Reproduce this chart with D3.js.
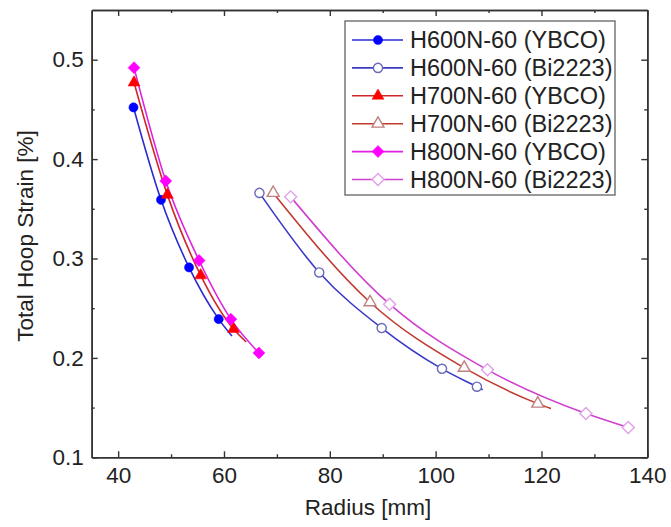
<!DOCTYPE html>
<html lang="en">
<head>
<meta charset="UTF-8">
<title>Total Hoop Strain vs Radius</title>
<script src="https://d3js.org/d3.v7.min.js"></script>
<style>
    body { margin: 0; background: #fff; }
    svg { font-family: "Liberation Sans", Arial, sans-serif; }
</style>
</head>
<body>
<div id="chart"></div>
<script>
    // Values
    const seriesNames = ['H600N-60 (YBCO)', 'H600N-60 (Bi2223)', 'H700N-60 (YBCO)',
                         'H700N-60 (Bi2223)', 'H800N-60 (YBCO)', 'H800N-60 (Bi2223)'];

    // marker points (radius mm, strain %)
    const h600yR = [42.9, 48.1, 53.4, 59.0];
    const h600yS = [0.452, 0.359, 0.291, 0.239];
    const h600bR = [66.7, 78.0, 89.8, 101.2, 107.8];
    const h600bS = [0.366, 0.286, 0.230, 0.189, 0.171];
    const h700yR = [43.0, 49.3, 55.6, 61.8];
    const h700yS = [0.477, 0.364, 0.283, 0.229];
    const h700bR = [69.3, 87.6, 105.4, 119.3];
    const h700bS = [0.366, 0.256, 0.190, 0.154];
    const h800yR = [43.0, 49.0, 55.3, 61.3, 66.6];
    const h800yS = [0.492, 0.378, 0.298, 0.239, 0.205];
    const h800bR = [72.6, 91.3, 109.8, 128.4, 136.4];
    const h800bS = [0.362, 0.254, 0.188, 0.144, 0.130];

    // fitted curve end points (the lines run a little past the last marker)
    const curveEndR = [61.5, 108.9, 64.2, 121.8, 66.6, 136.4];
    const curveEndS = [0.222, 0.168, 0.216, 0.149, 0.205, 0.130];

    const xTicks = [40, 60, 80, 100, 120, 140];
    const xMinor = [50, 70, 90, 110, 130];
    const yTicks = [0.1, 0.2, 0.3, 0.4, 0.5];
    const yMinor = [0.15, 0.25, 0.35, 0.45];

    const markerR = [h600yR, h600bR, h700yR, h700bR, h800yR, h800bR];
    const markerS = [h600yS, h600bS, h700yS, h700bS, h800yS, h800bS];

    const lineColors = ['#2b2bd0', '#3a3ac8', '#d02828', '#c03a30', '#e020e0', '#d040d0'];
    const markColors = ['#0000ff', '#6a6ab8', '#ff0000', '#c08080', '#ff00ff', '#e0a0e8'];
    const filled = [true, false, true, false, true, false];
    const shapes = ['circle', 'circle', 'triangle', 'triangle', 'diamond', 'diamond'];

    const W = 671, H = 527;
    const x = d3.scaleLinear().domain([35, 140]).range([91.7, 647.3]);
    const y = d3.scaleLinear().domain([0.1, 0.55]).range([457.3, 10]);

    const svg = d3.select('#chart').append('svg')
        .attr('width', W).attr('height', H);

    const series = seriesNames.map((name, i) => ({
        name,
        points: markerR[i].map((r, j) => ({ r, s: markerS[i][j] })),
        curve: markerR[i].map((r, j) => ({ r, s: markerS[i][j] }))
            .concat(curveEndR[i] > d3.max(markerR[i]) ? [{ r: curveEndR[i], s: curveEndS[i] }] : []),
        line: lineColors[i],
        mark: markColors[i],
        filled: filled[i],
        shape: shapes[i]
    }));

    // marker path + extra rotation per shape
    function markerPath(shape) {
        if (shape === 'circle') return d3.symbol().type(d3.symbolCircle).size(66)();
        if (shape === 'triangle') return d3.symbol().type(d3.symbolTriangle).size(62)();
        return d3.symbol().type(d3.symbolSquare).size(72)();
    }
    const markerRot = shape => shape === 'diamond' ? ' rotate(45)' : '';

    // axes frame
    const axisColor = '#333';
    function styleAxis(g, showLabels) {
        g.select('.domain').attr('stroke', axisColor).attr('stroke-width', 1.6);
        g.selectAll('.tick line').attr('stroke', axisColor).attr('stroke-width', 1.4);
        g.selectAll('.tick text').attr('fill', '#222').style('font-size', '22.5px');
        if (!showLabels) g.selectAll('.tick text').remove();
    }

    const xAxisBottom = svg.append('g').attr('transform', `translate(0,${y(0.1)})`)
        .call(d3.axisBottom(x).tickValues(xTicks).tickSizeInner(-6).tickSizeOuter(0).tickPadding(10));
    styleAxis(xAxisBottom, true);
    xAxisBottom.selectAll('.tick text').attr('dy', '0.71em');
    const xMinorBottom = svg.append('g').attr('transform', `translate(0,${y(0.1)})`)
        .call(d3.axisBottom(x).tickValues(xMinor).tickSizeInner(-3).tickSizeOuter(0));
    styleAxis(xMinorBottom, false);

    const xAxisTop = svg.append('g').attr('transform', `translate(0,${y(0.55)})`)
        .call(d3.axisTop(x).tickValues(xTicks).tickSizeInner(-6).tickSizeOuter(0));
    styleAxis(xAxisTop, false);
    const xMinorTop = svg.append('g').attr('transform', `translate(0,${y(0.55)})`)
        .call(d3.axisTop(x).tickValues(xMinor).tickSizeInner(-3).tickSizeOuter(0));
    styleAxis(xMinorTop, false);

    const yAxisLeft = svg.append('g').attr('transform', `translate(${x(35)},0)`)
        .call(d3.axisLeft(y).tickValues(yTicks).tickFormat(d3.format('.1f')).tickSizeInner(-6).tickSizeOuter(0).tickPadding(8));
    styleAxis(yAxisLeft, true);
    const yMinorLeft = svg.append('g').attr('transform', `translate(${x(35)},0)`)
        .call(d3.axisLeft(y).tickValues(yMinor).tickSizeInner(-3).tickSizeOuter(0));
    styleAxis(yMinorLeft, false);

    const yAxisRight = svg.append('g').attr('transform', `translate(${x(140)},0)`)
        .call(d3.axisRight(y).tickValues(yTicks).tickSizeInner(-6).tickSizeOuter(0));
    styleAxis(yAxisRight, false);
    const yMinorRight = svg.append('g').attr('transform', `translate(${x(140)},0)`)
        .call(d3.axisRight(y).tickValues(yMinor).tickSizeInner(-3).tickSizeOuter(0));
    styleAxis(yMinorRight, false);

    // axis titles
    svg.append('text')
        .attr('x', 368).attr('y', 515)
        .attr('text-anchor', 'middle')
        .style('font-size', '22.5px').attr('fill', '#222')
        .text('Radius [mm]');

    svg.append('text')
        .attr('transform', 'translate(33,236) rotate(-90)')
        .attr('text-anchor', 'middle')
        .style('font-size', '22.5px').attr('fill', '#222')
        .text('Total Hoop Strain [%]');

    // curves
    const lineGen = d3.line()
        .x(d => x(d.r)).y(d => y(d.s))
        .curve(d3.curveMonotoneX);

    series.forEach(s => {
        svg.append('path')
            .datum(s.curve)
            .attr('d', lineGen)
            .attr('fill', 'none')
            .attr('stroke', s.line)
            .attr('stroke-width', 1.6);
    });

    // markers
    series.forEach(s => {
        svg.append('g').selectAll('path')
            .data(s.points)
            .join('path')
            .attr('d', markerPath(s.shape))
            .attr('transform', d => `translate(${x(d.r)},${y(d.s)})` + markerRot(s.shape))
            .attr('fill', s.filled ? s.mark : '#fff')
            .attr('stroke', s.mark)
            .attr('stroke-width', s.filled ? 0.5 : 1.4);
    });

    // legend
    const legend = svg.append('g').attr('transform', 'translate(345,21)');
    legend.append('rect')
        .attr('width', 270).attr('height', 174)
        .attr('fill', '#fff').attr('stroke', '#555').attr('stroke-width', 1.2);

    const item = legend.selectAll('.legend-item')
        .data(series)
        .join('g')
        .attr('class', 'legend-item')
        .attr('transform', (d, i) => `translate(0,${19 + i * 27.9})`);

    item.append('line')
        .attr('x1', 7).attr('x2', 58)
        .attr('stroke', d => d.line).attr('stroke-width', 1.6);

    item.append('path')
        .attr('d', d => markerPath(d.shape))
        .attr('transform', d => 'translate(33,0)' + markerRot(d.shape))
        .attr('fill', d => d.filled ? d.mark : '#fff')
        .attr('stroke', d => d.mark)
        .attr('stroke-width', d => d.filled ? 0.5 : 1.4);

    item.append('text')
        .attr('x', 65).attr('y', 0).attr('dy', '0.36em')
        .style('font-size', '23.5px').attr('fill', '#222')
        .text(d => d.name);
</script>
</body>
</html>
